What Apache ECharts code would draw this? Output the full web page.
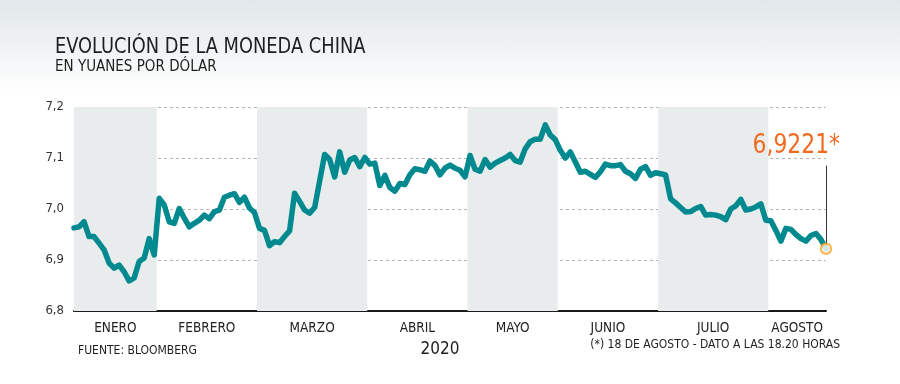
<!DOCTYPE html>
<html>
<head>
<meta charset="utf-8">
<script src="https://cdn.jsdelivr.net/npm/echarts@6/dist/echarts.min.js"></script>
<style>
  html, body { margin: 0; padding: 0; }
  body { width: 900px; height: 384px; background: linear-gradient(#e1e7ea 0px, #ffffff 95px); }
  #chart { width: 900px; height: 384px; }
</style>
</head>
<body>
<div id="chart"></div>
<script>
// ---- Data (CNY per USD, trading days, 2 Jan - 18 Aug 2020) ----
const months = ['ENERO', 'FEBRERO', 'MARZO', 'ABRIL', 'MAYO', 'JUNIO', 'JULIO', 'AGOSTO'];
const shadedMonths = ['ENERO', 'MARZO', 'MAYO', 'JULIO'];
const eneroVals = [6.963, 6.965, 6.975, 6.946, 6.946, 6.933, 6.920, 6.894, 6.884, 6.890, 6.877, 6.859, 6.865, 6.897, 6.904, 6.942, 6.910];
const febreroVals = [7.021, 7.008, 6.975, 6.972, 7.001, 6.982, 6.965, 6.972, 6.978, 6.988, 6.981, 6.995, 6.998, 7.023, 7.027, 7.030, 7.013, 7.023, 7.002, 6.993];
const marzoVals = [6.962, 6.958, 6.928, 6.936, 6.934, 6.946, 6.957, 7.031, 7.015, 6.998, 6.992, 7.003, 7.055, 7.107, 7.097, 7.063, 7.112, 7.072, 7.096, 7.101, 7.083, 7.101];
const abrilVals = [7.088, 7.090, 7.046, 7.066, 7.042, 7.035, 7.050, 7.048, 7.067, 7.079, 7.077, 7.074, 7.094, 7.085, 7.067, 7.080, 7.086, 7.080, 7.076, 7.063];
const mayoVals = [7.105, 7.078, 7.074, 7.097, 7.082, 7.090, 7.095, 7.100, 7.107, 7.095, 7.092, 7.118, 7.132, 7.137, 7.137, 7.165, 7.145, 7.136];
const junioVals = [7.115, 7.100, 7.112, 7.092, 7.072, 7.074, 7.068, 7.062, 7.073, 7.088, 7.085, 7.085, 7.087, 7.074, 7.069, 7.060, 7.078, 7.083, 7.066, 7.071];
const julioVals = [7.069, 7.067, 7.020, 7.012, 7.003, 6.994, 6.995, 7.001, 7.005, 6.988, 6.989, 6.988, 6.985, 6.979, 7.000, 7.006, 7.019, 6.998, 7.000, 7.004, 7.010, 6.978];
const agostoVals = [6.977, 6.958, 6.937, 6.962, 6.960, 6.950, 6.942, 6.937, 6.948, 6.952, 6.940, 6.9221];
const yTicks = [6.8, 6.9, 7.0, 7.1, 7.2];

// ---- Texts ----
const titleText = 'EVOLUCIÓN DE LA MONEDA CHINA';
const subtitleText = 'EN YUANES POR DÓLAR';
const sourceText = 'FUENTE: BLOOMBERG';
const yearText = '2020';
const noteText = '(*) 18 DE AGOSTO - DATO A LAS 18.20 HORAS';

// ---- Build ----
const monthVals = [eneroVals, febreroVals, marzoVals, abrilVals, mayoVals, junioVals, julioVals, agostoVals];
const values = [].concat(...monthVals);
const lastIdx = values.length - 1;
const lastVal = values[lastIdx];

const bounds = [];
let acc = 0;
monthVals.forEach((arr, i) => {
  const start = i === 0 ? 0 : acc - 0.5;
  acc += arr.length;
  const end = i === monthVals.length - 1 ? lastIdx : acc - 0.5;
  bounds.push([start, end]);
});
const mids = bounds.map(b => (b[0] + b[1]) / 2);

const FONT = '"DejaVu Sans Condensed", "DejaVu Sans", sans-serif';
const fmtComma = (v, d) => v.toFixed(d).replace('.', ',');

function txt(x, y, text, size, opts) {
  opts = opts || {};
  return {
    type: 'text', x: x, y: y, scaleX: opts.scaleX || 1,
    style: {
      text: text, fontSize: size, fontFamily: FONT, fill: opts.fill || '#1e1e1e',
      align: opts.align || 'left', verticalAlign: 'middle'
    },
    z: 10
  };
}

const chart = echarts.init(document.getElementById('chart'), null, { renderer: 'canvas' });
chart.setOption({
  backgroundColor: 'transparent',
  animation: false,
  grid: { left: 74, right: 74, top: 107, bottom: 73 },
  xAxis: {
    type: 'value', min: 0, max: lastIdx,
    axisLine: { show: true, onZero: false, lineStyle: { color: '#1a1a1a', width: 2 } },
    axisTick: { show: false },
    splitLine: { show: false },
    axisLabel: {
      customValues: mids,
      formatter: (v) => months[mids.indexOf(v)] || '',
      color: '#222', fontFamily: FONT, fontSize: 13.5, margin: 10
    }
  },
  yAxis: {
    type: 'value', min: yTicks[0], max: yTicks[yTicks.length - 1], interval: 0.1,
    axisLine: { show: false }, axisTick: { show: false },
    axisLabel: { formatter: (v) => fmtComma(v, 1), color: '#333', fontFamily: FONT, fontSize: 13, margin: 10 },
    splitLine: { lineStyle: { color: '#b5b5b5', type: [3, 3], width: 1 } }
  },
  series: [
    {
      type: 'line',
      data: values.map((v, i) => [i, v]),
      symbol: 'none',
      lineStyle: { color: '#00898e', width: 5.5, join: 'round', cap: 'round' },
      z: 3,
      markArea: {
        silent: true,
        itemStyle: { color: '#e8ecec' },
        data: months.map((m, i) => shadedMonths.includes(m) ? [{ xAxis: bounds[i][0] }, { xAxis: bounds[i][1] }] : null).filter(Boolean)
      },
      markLine: {
        silent: true, symbol: 'none',
        lineStyle: { color: '#333', width: 1, type: 'solid' },
        label: { show: false },
        data: [[{ coord: [lastIdx, lastVal] }, { coord: [lastIdx, 7.085] }]]
      }
    },
    {
      type: 'scatter',
      data: [[lastIdx, lastVal]],
      symbol: 'circle', symbolSize: 10,
      itemStyle: { color: '#ffffff', borderColor: '#f7a631', borderWidth: 2.5 },
      z: 5
    }
  ],
  graphic: [
    txt(55, 47, titleText, 22, { scaleX: 0.9 }),
    txt(55, 67, subtitleText, 15),
    txt(840, 146, fmtComma(lastVal, 4) + '*', 27, { align: 'right', fill: '#f26a22', scaleX: 0.9 }),
    txt(78, 351, sourceText, 12),
    txt(440, 350, yearText, 17, { align: 'center' }),
    txt(840, 345, noteText, 12, { align: 'right' })
  ]
});
</script>
</body>
</html>
